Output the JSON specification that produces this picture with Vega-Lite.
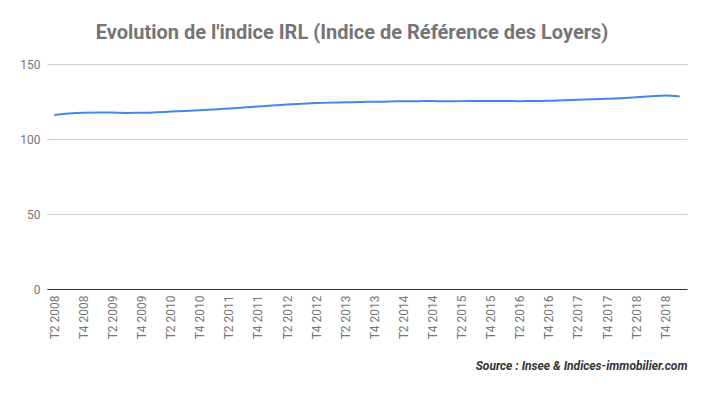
{
  "$schema": "https://vega.github.io/schema/vega-lite/v6.json",
  "width": 640,
  "height": 225,
  "autosize": {"type": "none"},
  "padding": {"left": 47, "top": 64, "right": 20, "bottom": 104},
  "background": "white",
  "config": {"view": {"stroke": null}, "font": "Roboto"},
  "title": {
    "text": "Evolution de l'indice IRL (Indice de Référence des Loyers)",
    "font": "Roboto",
    "fontSize": 20,
    "fontWeight": "bold",
    "color": "#757575",
    "anchor": "middle",
    "dx": -15,
    "offset": 15
  },
  "data": {
    "values": [
      {"q": "T2 2008", "v": 116.07},
      {"q": "T3 2008", "v": 117.03},
      {"q": "T4 2008", "v": 117.54},
      {"q": "T1 2009", "v": 117.70},
      {"q": "T2 2009", "v": 117.59},
      {"q": "T3 2009", "v": 117.41},
      {"q": "T4 2009", "v": 117.47},
      {"q": "T1 2010", "v": 117.81},
      {"q": "T2 2010", "v": 118.26},
      {"q": "T3 2010", "v": 118.70},
      {"q": "T4 2010", "v": 119.17},
      {"q": "T1 2011", "v": 119.69},
      {"q": "T2 2011", "v": 120.31},
      {"q": "T3 2011", "v": 120.95},
      {"q": "T4 2011", "v": 121.68},
      {"q": "T1 2012", "v": 122.37},
      {"q": "T2 2012", "v": 122.96},
      {"q": "T3 2012", "v": 123.55},
      {"q": "T4 2012", "v": 123.97},
      {"q": "T1 2013", "v": 124.25},
      {"q": "T2 2013", "v": 124.44},
      {"q": "T3 2013", "v": 124.66},
      {"q": "T4 2013", "v": 124.83},
      {"q": "T1 2014", "v": 125.00},
      {"q": "T2 2014", "v": 125.15},
      {"q": "T3 2014", "v": 125.24},
      {"q": "T4 2014", "v": 125.29},
      {"q": "T1 2015", "v": 125.19},
      {"q": "T2 2015", "v": 125.25},
      {"q": "T3 2015", "v": 125.26},
      {"q": "T4 2015", "v": 125.28},
      {"q": "T1 2016", "v": 125.26},
      {"q": "T2 2016", "v": 125.25},
      {"q": "T3 2016", "v": 125.33},
      {"q": "T4 2016", "v": 125.50},
      {"q": "T1 2017", "v": 125.90},
      {"q": "T2 2017", "v": 126.19},
      {"q": "T3 2017", "v": 126.46},
      {"q": "T4 2017", "v": 126.82},
      {"q": "T1 2018", "v": 127.22},
      {"q": "T2 2018", "v": 127.77},
      {"q": "T3 2018", "v": 128.45},
      {"q": "T4 2018", "v": 129.03},
      {"q": "T1 2019", "v": 128.3}
    ]
  },
  "mark": {"type": "line", "color": "#4285F4", "strokeWidth": 2, "interpolate": "monotone"},
  "encoding": {
    "x": {
      "field": "q",
      "type": "ordinal",
      "sort": null,
      "scale": {"type": "point", "padding": 0.5},
      "axis": {
        "values": ["T2 2008","T4 2008","T2 2009","T4 2009","T2 2010","T4 2010","T2 2011","T4 2011","T2 2012","T4 2012","T2 2013","T4 2013","T2 2014","T4 2014","T2 2015","T4 2015","T2 2016","T4 2016","T2 2017","T4 2017","T2 2018","T4 2018"],
        "labelAngle": 270,
        "labelAlign": "right",
        "labelBaseline": "middle",
        "labelFont": "Roboto",
        "labelFontSize": 12,
        "labelColor": "#757575",
        "labelPadding": 6,
        "ticks": false,
        "domainColor": "#333333",
        "domainWidth": 1,
        "grid": false,
        "title": "Source : Insee & Indices-immobilier.com",
        "titleFont": "Roboto",
        "titleFontSize": 12,
        "titleFontWeight": "bold",
        "titleFontStyle": "italic",
        "titleColor": "#333333",
        "titleAnchor": "end",
        "titleAlign": "right",
        "titlePadding": 22
      }
    },
    "y": {
      "field": "v",
      "type": "quantitative",
      "scale": {"domain": [0, 150], "nice": false},
      "axis": {
        "values": [0, 50, 100, 150],
        "labelFont": "Roboto",
        "labelFontSize": 12,
        "labelColor": "#757575",
        "labelPadding": 7,
        "ticks": false,
        "domain": false,
        "gridColor": "#cccccc",
        "title": null
      }
    }
  }
}
